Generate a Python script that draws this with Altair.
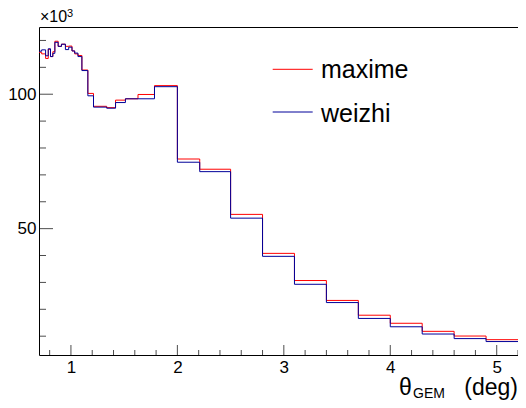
import altair as alt
import pandas as pd

# Bin edges (deg) of the theta_GEM histogram
edges = [0.70, 0.725, 0.762, 0.787, 0.808, 0.830, 0.849, 0.880, 0.911, 0.948,
         0.979, 1.010, 1.035, 1.066, 1.103, 1.159, 1.212, 1.336, 1.419, 1.512,
         1.630, 1.785, 2.0, 2.21, 2.5, 2.8, 3.1, 3.4, 3.7, 4.0, 4.3, 4.6, 4.9, 5.2]

# Bin contents (x10^3)
maxime = [115.6, 115.0, 113.3, 116.7, 114.0, 115.8, 119.7, 117.8, 118.6, 117.8,
          117.9, 116.1, 115.0, 114.4, 109.0, 100.3, 95.5, 95.0, 97.8, 98.3,
          99.9, 103.2, 75.9, 72.1, 55.3, 40.8, 30.7, 23.3, 17.8, 14.8,
          11.8, 10.05, 8.7]
weizhi = [116.0, 116.5, 114.3, 116.9, 114.0, 115.2, 119.3, 117.8, 118.6, 116.6,
          117.5, 116.1, 115.3, 114.0, 108.8, 99.4, 95.2, 94.8, 96.9, 98.3,
          98.3, 102.8, 74.7, 71.2, 53.9, 39.7, 29.3, 22.5, 16.6, 13.5,
          10.8, 9.1, 8.0]

series_names = ["maxime", "weizhi"]
series_colors = ["#ff0000", "#000099"]

x_major = [1, 2, 3, 4, 5]
x_minor = [0.8, 1.2, 1.4, 1.6, 1.8, 2.2, 2.4, 2.6, 2.8, 3.2, 3.4, 3.6, 3.8,
           4.2, 4.4, 4.6, 4.8, 5.2]
y_major = [50, 100]
y_minor = [10, 20, 30, 40, 60, 70, 80, 90, 110, 120]

W, H = 479, 328
FONT = "Liberation Sans"

rows = []
for name, vals in zip(series_names, [maxime, weizhi]):
    n = len(vals)
    for i, e in enumerate(edges):
        rows.append({"series": name, "x": e, "y": vals[min(i, n - 1)], "order": i})
df = pd.DataFrame(rows)

xscale = alt.Scale(domain=[0.7, 5.2], nice=False, zero=False)
yscale = alt.Scale(domain=[3, 125], nice=False, zero=False)

lines = alt.Chart(df).mark_line(interpolate="step-after", strokeWidth=1, clip=True).encode(
    x=alt.X("x:Q", scale=xscale,
            axis=alt.Axis(values=x_major, format="d", ticks=False, domain=False, grid=False,
                          labelFont=FONT, labelFontSize=17, labelColor="black",
                          labelPadding=4, title=None, orient="bottom")),
    y=alt.Y("y:Q", scale=yscale,
            axis=alt.Axis(values=y_major, format="d", ticks=False, domain=False, grid=False,
                          labelFont=FONT, labelFontSize=17, labelColor="black",
                          labelPadding=3, title=None, orient="left")),
    color=alt.Color("series:N", scale=alt.Scale(domain=series_names, range=series_colors),
                    legend=None),
    order="order:Q",
)

xt_major = alt.Chart(pd.DataFrame({"x": x_major})).mark_tick(
    orient="vertical", size=10, thickness=1, color="black").encode(
    x=alt.X("x:Q", scale=xscale, axis=None), y=alt.value(H - 5))
xt_minor = alt.Chart(pd.DataFrame({"x": x_minor})).mark_tick(
    orient="vertical", size=5, thickness=1, color="black").encode(
    x=alt.X("x:Q", scale=xscale, axis=None), y=alt.value(H - 2.5))
yt_major = alt.Chart(pd.DataFrame({"y": y_major})).mark_tick(
    orient="horizontal", size=14, thickness=1, color="black").encode(
    y=alt.Y("y:Q", scale=yscale, axis=None), x=alt.value(7))
yt_minor = alt.Chart(pd.DataFrame({"y": y_minor})).mark_tick(
    orient="horizontal", size=7, thickness=1, color="black").encode(
    y=alt.Y("y:Q", scale=yscale, axis=None), x=alt.value(3.5))

exp_label = alt.Chart(pd.DataFrame({"t": ["×10"]})).mark_text(
    font=FONT, fontSize=16, align="left", baseline="alphabetic", color="black").encode(
    text="t:N", x=alt.value(1), y=alt.value(-5))
exp_sup = alt.Chart(pd.DataFrame({"t": ["3"]})).mark_text(
    font=FONT, fontSize=11, align="left", baseline="alphabetic", color="black").encode(
    text="t:N", x=alt.value(28), y=alt.value(-10))

title_theta = alt.Chart(pd.DataFrame({"t": ["θ"]})).mark_text(
    font=FONT, fontSize=23, align="left", baseline="alphabetic", color="black").encode(
    text="t:N", x=alt.value(360), y=alt.value(368))
title_sub = alt.Chart(pd.DataFrame({"t": ["GEM"]})).mark_text(
    font=FONT, fontSize=14, align="left", baseline="alphabetic", color="black").encode(
    text="t:N", x=alt.value(374), y=alt.value(371))
title_unit = alt.Chart(pd.DataFrame({"t": ["(deg)"]})).mark_text(
    font=FONT, fontSize=23, align="right", baseline="alphabetic", color="black").encode(
    text="t:N", x=alt.value(W), y=alt.value(368))

legend_layers = []
leg_line_y = [42.3, 85.0]
leg_text_y = [51.3, 94.7]
for name, col, ly, ty in zip(series_names, series_colors, leg_line_y, leg_text_y):
    d = pd.DataFrame({"series": [name]})
    legend_layers.append(alt.Chart(d).mark_rule(color=col, strokeWidth=1).encode(
        x=alt.value(233.7), x2=alt.value(273.7), y=alt.value(ly)))
    legend_layers.append(alt.Chart(d).mark_text(
        font=FONT, fontSize=25, align="left", baseline="alphabetic", color="black").encode(
        text="series:N", x=alt.value(282), y=alt.value(ty)))

chart = alt.layer(
    lines, xt_major, xt_minor, yt_major, yt_minor, exp_label, exp_sup,
    title_theta, title_sub, title_unit, *legend_layers
).resolve_axis(x="independent", y="independent").properties(
    width=W, height=H,
    autosize=alt.AutoSizeParams(type="none"),
    padding={"left": 31, "top": 19, "right": 0, "bottom": 45},
    background="white",
).configure_view(stroke="black", strokeWidth=1)

chart.save("out.html", embed_options={"renderer": "svg", "actions": False})
